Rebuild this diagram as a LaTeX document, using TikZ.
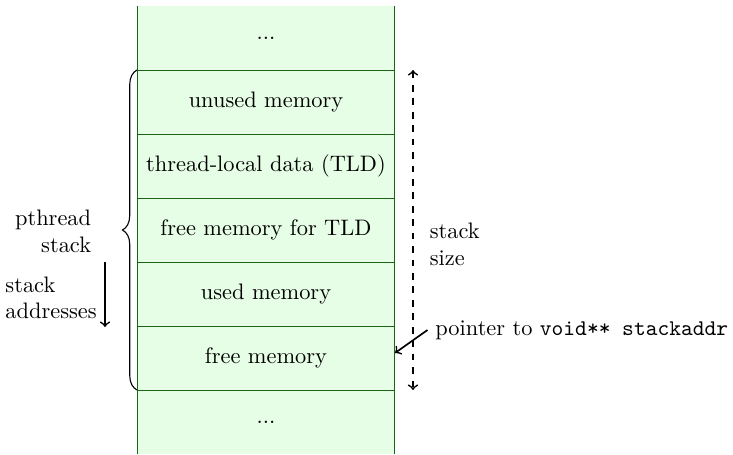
\documentclass[tikz,border=0pt]{standalone}
\usetikzlibrary{decorations.pathreplacing}
\definecolor{rowfill}{RGB}{230,253,230}
\definecolor{rowedge}{RGB}{25,100,25}
\begin{document}
\begin{tikzpicture}[x=0.4466pt,y=-0.4466pt,
  stackrow/.style={fill=rowfill,draw=none,minimum width=115.2pt,minimum height=28.58pt,inner sep=0pt,outer sep=0pt},
  rowedgeline/.style={draw=rowedge,line width=0.45pt},
  bracestyle/.style={decorate,decoration={brace,amplitude=6.5pt},line width=0.5pt},
  arrowline/.style={->,line width=0.75pt},
  sidelabel/.style={inner sep=3.33pt}]
\useasboundingbox (0,0) rectangle (733,454);
% rows
\node[stackrow] (r0) at (266,38) {...};
\node[stackrow] (r1) at (266,102) {unused memory};
\node[stackrow] (r2) at (266,166) {thread-local data (TLD)};
\node[stackrow] (r3) at (266,230) {free memory for TLD};
\node[stackrow] (r4) at (266,294) {used memory};
\node[stackrow] (r5) at (266,358) {free memory};
\node[stackrow] (r6) at (266,422) {...};
% borders
\draw[rowedgeline] (r0.north west) -- (r6.south west);
\draw[rowedgeline] (r0.north east) -- (r6.south east);
\foreach \k in {1,...,6} {\draw[rowedgeline] (r\k.north west) -- (r\k.north east);}
% brace
\draw[bracestyle] (r5.south west) -- (r1.north west);
\node[sidelabel,anchor=east,align=right] (pth) at (99,231) {pthread\\stack};
% stack addresses arrow
\coordinate (a1) at (105,262);
\coordinate (a2) at (105,327);
\draw[arrowline] (a1) -- (a2) node[midway,left,align=left,sidelabel,yshift=-1.5pt] (addr) {stack\\addresses};
% stack size arrow
\coordinate (d1) at (413,70);
\coordinate (d2) at (413,390);
\draw[arrowline,dashed,<->] (d1) -- (d2);
\node[sidelabel,anchor=west,align=left] (ssize) at (422,244) {stack\\size};
% pointer
\node[sidelabel,anchor=west] (ptr) at (427.5,330) {pointer to \texttt{void** stackaddr}};
\coordinate (ptrend) at (395,353);
\draw[arrowline] (ptr.west) -- (ptrend);
\end{tikzpicture}
\end{document}
